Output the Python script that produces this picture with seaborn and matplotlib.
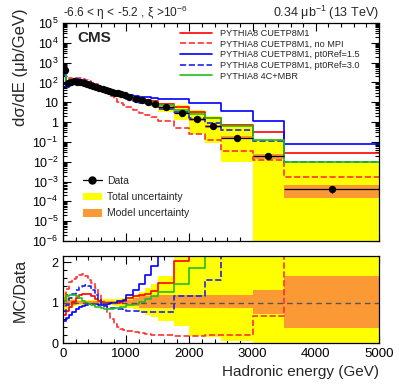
import numpy as np
import matplotlib
matplotlib.use("Agg")
import matplotlib.pyplot as plt
import seaborn as sns
from matplotlib.lines import Line2D
from matplotlib.patches import Patch
from matplotlib.ticker import MultipleLocator, LogLocator, FuncFormatter, NullFormatter, FixedLocator

sns.set_style("ticks")
plt.rcParams['font.family'] = ['Liberation Sans', 'DejaVu Sans']
plt.rcParams['mathtext.fontset'] = 'custom'
plt.rcParams['mathtext.rm'] = 'Liberation Sans'
plt.rcParams['mathtext.it'] = 'Liberation Sans:italic'
plt.rcParams['mathtext.bf'] = 'Liberation Sans:bold'

# bin edges (GeV)
edges = [0, 50, 100, 150, 200, 250, 300, 350, 400, 450, 500, 550, 600, 650, 700, 750, 800,
         850, 900, 950, 1000, 1100, 1200, 1300, 1400, 1500, 1750, 2000, 2250, 2500, 3000,
         3500, 5000]

# measured cross section (ub/GeV)
data_vals = [420, 92, 108, 112, 108, 101, 92, 82, 73, 65, 58, 52, 47, 42, 38, 34, 31, 28, 25, 22.5,
             19, 15.4, 12.6, 10.5, 8.6,
             5.8, 2.9, 1.38, 0.6,
             0.16, 0.0195,
             4.2e-4]
stat_rel = [0.01] * 25 + [0.015, 0.02, 0.02, 0.03, 0.05, 0.12, 0.4]

# uncertainty bands, as MC/Data limits
tot_lo = [0.8, 0.85, 0.9, 0.92] + [0.93] * 12 + [0.92, 0.92, 0.9, 0.9] + \
         [0.87, 0.84, 0.78, 0.7, 0.65] + [0.55, 0.42, 0.18, 0.14] + [0.06, 0.0] + [0.0]
tot_hi = [1.25, 1.18, 1.12, 1.09] + [1.07] * 8 + [1.08] * 4 + [1.09, 1.09, 1.1, 1.1] + \
         [1.14, 1.18, 1.25, 1.35, 1.47] + [1.65, 2.5, 3.0, 3.5] + [5.0, 7.0] + [22.0]
mod_lo = [0.88, 0.91, 0.94, 0.95] + [0.97] * 16 + [0.94, 0.91, 0.86, 0.86, 0.86] + \
         [0.86] * 4 + [0.86, 0.72] + [0.36]
mod_hi = [1.14, 1.1, 1.07, 1.06] + [1.03] * 16 + [1.07, 1.1, 1.17, 1.17, 1.17] + \
         [1.18] * 4 + [1.18, 1.31] + [1.66]

# MC / Data ratios
r_cuetp = [0.68, 0.78, 0.9, 1.02, 1.12, 1.18, 1.21, 1.22, 1.2, 1.15, 1.09, 1.04, 1.01, 1.0, 1.0,
           0.99, 0.99, 1.0, 1.01, 1.03,
           1.12, 1.15, 1.19, 1.2, 1.28,
           1.49, 2.03, 2.3, 2.6,
           4.3, 15.6,
           62]
r_nompi = [1.05, 1.33, 1.5, 1.58, 1.64, 1.69, 1.70, 1.65, 1.56, 1.48, 1.36, 1.21, 1.06, 0.89, 0.74,
           0.59, 0.47, 0.39, 0.35, 0.32,
           0.29, 0.26, 0.24, 0.22, 0.21,
           0.19, 0.18, 0.18, 0.2,
           0.21, 0.66,
           3.9]
r_pt15 = [0.55, 0.62, 0.7, 0.77, 0.83, 0.88, 0.92, 0.95, 0.97, 0.97, 0.96, 0.95, 0.95, 0.95, 0.96,
          0.98, 1.0, 1.03, 1.05, 1.07,
          1.19, 1.30, 1.46, 1.67, 1.90,
          2.6, 5.3, 6.7, 15.8,
          24, 56,
          195]
r_pt30 = [0.8, 0.95, 1.1, 1.22, 1.32, 1.38, 1.42, 1.43, 1.41, 1.32, 1.18, 1.06, 0.97, 0.92, 0.89,
          0.87, 0.86, 0.85, 0.83, 0.82,
          0.8, 0.78, 0.77, 0.77, 0.77,
          0.77, 1.16, 1.16, 1.55,
          2.4, 5.9,
          23]
r_4c = [1.05, 1.15, 1.19, 1.18, 1.15, 1.1, 1.05, 1.0, 0.96, 0.93, 0.9, 0.88, 0.86, 0.85, 0.85,
        0.85, 0.86, 0.87, 0.88, 0.9,
        0.93, 0.97, 1.02, 1.08, 1.16,
        1.26, 1.46, 1.85, 2.6,
        3.9, 6.3,
        23]

mc_labels = ['PYTHIA8 CUETP8M1', 'PYTHIA8 CUETP8M1, no MPI', 'PYTHIA8 CUETP8M1, pt0Ref=1.5',
             'PYTHIA8 CUETP8M1, pt0Ref=3.0', 'PYTHIA8 4C+MBR']
mc_ratios = [r_cuetp, r_nompi, r_pt15, r_pt30, r_4c]
mc_colors = ['#ff0000', '#ff3030', '#0000ff', '#2020ee', '#22bb22']
mc_styles = ['-', '--', '-', '--', '-']

YELLOW = '#ffff00'
ORANGE = '#fb9a34'

e = np.array(edges, dtype=float)
centers = (e[:-1] + e[1:]) / 2
widths = np.diff(e)
data = np.array(data_vals)

fig = plt.figure(figsize=(3.99, 3.84), dpi=100)
ax = fig.add_axes([63 / 399, 1 - 241 / 384, 316 / 399, 218 / 384])
rax = fig.add_axes([63 / 399, 1 - 343 / 384, 316 / 399, 87 / 384])

# --- top panel ---
lo_t = np.maximum(data * np.array(tot_lo), 1e-9)
hi_t = data * np.array(tot_hi)
ax.bar(centers, hi_t - lo_t, width=widths, bottom=lo_t, color=YELLOW, linewidth=0, zorder=1)
lo_m = data * np.array(mod_lo)
hi_m = data * np.array(mod_hi)
ax.bar(centers, hi_m - lo_m, width=widths, bottom=lo_m, color=ORANGE, linewidth=0, zorder=2)

xs = np.concatenate([[0.0], e])
for lab, r, c, ls in zip(mc_labels, mc_ratios, mc_colors, mc_styles):
    r = np.array(r, dtype=float)
    vals = r * data
    y_top = np.concatenate([[1e-9], vals, [vals[-1]]])
    y_rat = np.concatenate([[-1.0], r, [r[-1]]])
    sns.lineplot(x=xs, y=y_top, ax=ax, color=c, linestyle=ls, lw=1.2, drawstyle='steps-post',
                 estimator=None, sort=False, zorder=3)
    sns.lineplot(x=xs, y=y_rat, ax=rax, color=c, linestyle=ls, lw=1.2, drawstyle='steps-post',
                 estimator=None, sort=False, zorder=3)

ax.errorbar(centers, data, xerr=widths / 2, yerr=data * np.array(stat_rel), fmt='none',
            ecolor='black', elinewidth=0.9, zorder=4)
sns.scatterplot(x=centers, y=data, ax=ax, color='black', s=28, edgecolor='black', linewidth=0,
                zorder=5)

ax.set_yscale('log')
ax.set_xlim(0, 5000)
ax.set_ylim(1e-6, 1e5)


def log_fmt(v, pos):
    p = int(round(np.log10(v)))
    if p == 0:
        return '1'
    if p == 1:
        return '10'
    return r'$\mathregular{10^{%d}}$' % p


ax.yaxis.set_major_locator(LogLocator(base=10, numticks=20))
ax.yaxis.set_minor_locator(LogLocator(base=10, subs=np.arange(2, 10), numticks=20))
ax.yaxis.set_major_formatter(FuncFormatter(log_fmt))
ax.yaxis.set_minor_formatter(NullFormatter())
ax.xaxis.set_major_locator(MultipleLocator(1000))
ax.xaxis.set_minor_locator(MultipleLocator(200))
ax.tick_params(axis='x', labelbottom=False)
ax.set_ylabel('dσ/dE (μb/GeV)', fontsize=12, loc='top')
ax.yaxis.set_label_coords(-0.111, 1.065)

# --- ratio panel ---
rax.bar(centers, np.array(tot_hi) - np.array(tot_lo), width=widths, bottom=tot_lo,
        color=YELLOW, linewidth=0, zorder=1)
rax.bar(centers, np.array(mod_hi) - np.array(mod_lo), width=widths, bottom=mod_lo,
        color=ORANGE, linewidth=0, zorder=2)
rax.axhline(1.0, color='#555555', ls='--', lw=1.0, dashes=(4, 3), zorder=4)
rax.set_xlim(0, 5000)
rax.set_ylim(0, 2.15)
rax.yaxis.set_major_locator(FixedLocator([0, 1, 2]))
rax.yaxis.set_minor_locator(MultipleLocator(0.2))
rax.xaxis.set_major_locator(MultipleLocator(1000))
rax.xaxis.set_minor_locator(MultipleLocator(200))
rax.set_ylabel('MC/Data', fontsize=11.5)
rax.yaxis.set_label_coords(-0.111, 0.6)
rax.set_xlabel('Hadronic energy (GeV)', fontsize=11, loc='right')

for a in (ax, rax):
    a.tick_params(which='both', direction='in', top=True, right=True, width=0.8,
                  labelsize=9.5, colors='black')
    a.tick_params(which='major', length=6)
    a.tick_params(which='minor', length=3)
    for s in a.spines.values():
        s.set_linewidth(0.9)
        s.set_color('black')
        s.set_zorder(10)
ax.tick_params(axis='y', labelsize=9)
rax.tick_params(axis='y', labelsize=9)

# --- legends ---
h1 = [Line2D([], [], color=c, linestyle=ls, lw=1.2) for c, ls in zip(mc_colors, mc_styles)]
leg1 = ax.legend(h1, mc_labels, loc='upper left', bbox_to_anchor=((180 - 63) / 316, 1 - 6 / 218),
                 frameon=False, fontsize=6.6, handlelength=3.5, handletextpad=0.85,
                 labelspacing=0.18, borderpad=0, borderaxespad=0)
ax.add_artist(leg1)
h2 = [Line2D([], [], color='black', marker='o', markersize=5, lw=0.9),
      Patch(facecolor=YELLOW, edgecolor='none'),
      Patch(facecolor=ORANGE, edgecolor='none')]
ax.legend(h2, ['Data', 'Total uncertainty', 'Model uncertainty'], loc='upper left',
          bbox_to_anchor=((83 - 63) / 316, 1 - (176 - 23) / 218), frameon=False, fontsize=7.5,
          handlelength=1.8, handletextpad=0.5, labelspacing=0.6, borderpad=0, borderaxespad=0)

ax.text(0.047, 0.93, 'CMS', transform=ax.transAxes, fontsize=11, fontweight='bold',
        ha='left', va='center')
fig.text(63 / 399, 1 - 13 / 384, r'-6.6 < η < -5.2 , ξ >10$^{-6}$', fontsize=8.6,
         ha='left', va='center')
fig.text(379 / 399, 1 - 13 / 384, r'0.34 μb$^{-1}$ (13 TeV)', fontsize=9,
         ha='right', va='center')

fig.savefig('out.png', dpi=100)
